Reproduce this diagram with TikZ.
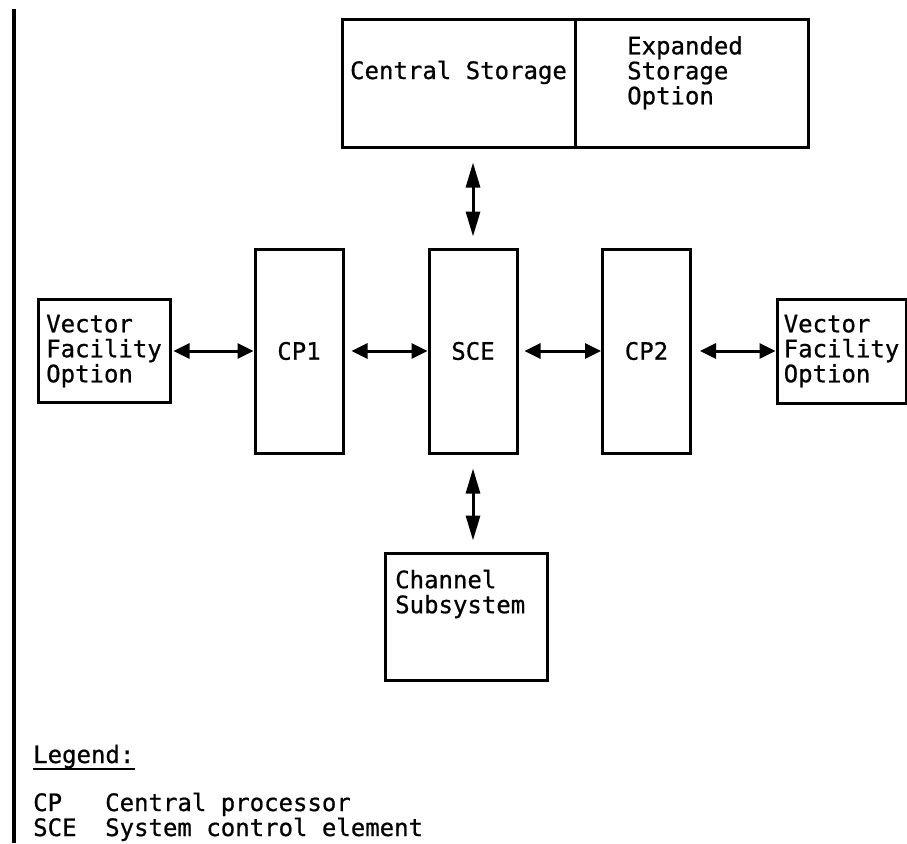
\documentclass[tikz,border=0pt]{standalone}
\usepackage{fontspec}
\newfontfamily\termfont[FakeBold=0.7]{DejaVu Sans Mono}
\usetikzlibrary{arrows.meta,calc}

\begin{document}
\begin{tikzpicture}[x=1pt,y=-1pt,
        box/.style={draw, line width=3pt, inner sep=0pt, align=left,
            font=\termfont\fontsize{24}{25}\selectfont},
        lbl/.style={inner sep=0pt, font=\termfont\fontsize{24}{25}\selectfont},
        harr/.style={line width=3pt, >={Triangle[length=16pt,width=15pt]}, <->},
        varr/.style={line width=3pt, >={Triangle[length=25pt,width=14pt]}, <->}]

        \useasboundingbox (0,0) rectangle (907,843);

        % margin bar
        \draw[line width=3.5pt] (14,9) -- (14,843);

        % storage
        \node[box, minimum width=233pt, minimum height=127pt] (cs) at (458.5,83.5) {};
        \node[box, minimum width=233pt, minimum height=127pt] (es) at (691.5,83.5) {};
        \node[lbl, anchor=base] (cstxt) at (458.5,79) {Central Storage};
        \node[lbl, align=left, anchor=west] (estxt) at (627,72.7) {Expanded\\Storage\\Option};

        % processors and system control element
        \node[box, minimum width=88pt, minimum height=204pt] (cp1) at (299,351) {CP1};
        \node[box, minimum width=88pt, minimum height=204pt] (sce) at (473,351) {SCE};
        \node[box, minimum width=88pt, minimum height=204pt] (cp2) at (646.5,351) {CP2};

        % vector facilities
        \node[box, minimum width=132pt, minimum height=103pt] (vf1) at (104,351) {Vector\\Facility\\Option};
        \node[box, minimum width=129pt, minimum height=104pt] (vf2) at (841.5,351) {Vector\\Facility\\Option};

        % channel subsystem
        \node[box, minimum width=162pt, minimum height=127pt] (chs) at (466,616.5) {};
        \node[lbl, align=left, anchor=west] (chstxt) at (395,594) {Channel\\Subsystem};

        % links
        \draw[harr] ([xshift=2pt]vf1.east) -- (cp1.west);
        \draw[harr] ([xshift=7pt]cp1.east) -- (sce.west);
        \draw[harr] ([xshift=6pt]sce.east) -- (cp2.west);
        \draw[harr] ([xshift=8pt]cp2.east) -- (vf2.west);
        \draw[varr] ($(sce.north |- cs.south)+(0,14)$) -- ([yshift=11pt]sce.north);
        \draw[varr] ([yshift=-14pt]sce.south) -- ($(sce.south |- chs.north)+(0,-11)$);

        % legend
        \node[lbl, anchor=base west] (lgd) at (33,763) {Legend:};
        \draw[line width=2pt] ([yshift=-6pt]lgd.base west) -- ([yshift=-6pt]lgd.base east);
        \node[lbl, anchor=base west] (cpab) at (33,811) {CP};
        \node[lbl, anchor=base west] (cpdef) at (105,811) {Central processor};
        \node[lbl, anchor=base west] (sceab) at (33,836) {SCE};
        \node[lbl, anchor=base west] (scedef) at (105,836) {System control element};

\end{tikzpicture}
\end{document}
